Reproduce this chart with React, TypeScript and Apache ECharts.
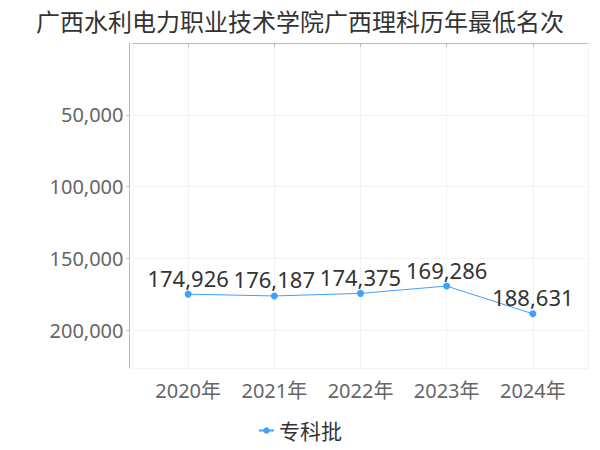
import React, {useRef, useEffect} from 'react';
import * as echarts from 'echarts';

const title = '广西水利电力职业技术学院广西理科历年最低名次';
const seriesName = '专科批';
const years = [2020, 2021, 2022, 2023, 2024];
const ranks = [174926, 176187, 174375, 169286, 188631];
const yTicks = [0, 50000, 100000, 150000, 200000];

const font = '"Noto Sans", "Noto Sans CJK SC", sans-serif';

const App = () => {
    const ref = useRef<HTMLDivElement | null>(null);

    useEffect(() => {
        const chart = echarts.init(ref.current as HTMLDivElement, null, {renderer: 'svg'});
        const yMax = Math.max(...ranks) * 1.2;
        chart.setOption({
            animation: false,
            textStyle: {fontFamily: font},
            title: {
                text: title,
                left: 'center',
                top: 4,
                textStyle: {fontSize: 24, fontWeight: 'normal', color: '#333', fontFamily: font}
            },
            legend: {
                bottom: 4,
                left: 'center',
                itemWidth: 15,
                itemHeight: 8,
                textStyle: {fontSize: 21, color: '#333', fontFamily: font},
                data: [seriesName]
            },
            grid: {left: 133, right: 12, top: 43, bottom: 82},
            xAxis: {
                type: 'value',
                min: years[0] - 0.64,
                max: years[years.length - 1] + 0.64,
                offset: 4,
                axisLine: {lineStyle: {color: '#bbb'}},
                axisTick: {show: true, length: 4, lineStyle: {color: '#bbb'}},
                splitLine: {show: true, lineStyle: {color: '#f3f3f3'}},
                axisLabel: {
                    showMinLabel: false,
                    showMaxLabel: false,
                    fontSize: 20,
                    color: '#666',
                    margin: 8,
                    formatter: (v: number) => (years.includes(v) ? `${v}年` : '')
                }
            },
            yAxis: {
                type: 'value',
                inverse: true,
                min: yTicks[0],
                max: yMax,
                interval: yTicks[1] - yTicks[0],
                offset: 3.5,
                axisLine: {show: true, lineStyle: {color: '#bbb'}},
                axisTick: {show: true, length: 3, lineStyle: {color: '#bbb'}},
                splitLine: {show: true, lineStyle: {color: '#f3f3f3'}},
                axisLabel: {
                    showMinLabel: false,
                    showMaxLabel: false,
                    fontSize: 20,
                    color: '#666',
                    margin: 6,
                    formatter: (v: number) => v.toLocaleString('en-US')
                }
            },
            series: [
                {
                    name: seriesName,
                    type: 'line',
                    data: years.map((y, i) => [y, ranks[i]]),
                    symbol: 'circle',
                    symbolSize: 7,
                    itemStyle: {color: '#3fa1ff'},
                    lineStyle: {width: 1, color: '#3fa1ff'},
                    label: {
                        show: true,
                        position: 'top',
                        distance: 2,
                        fontSize: 22,
                        color: '#333',
                        fontFamily: font,
                        formatter: (p: any) => p.value[1].toLocaleString('en-US')
                    }
                }
            ]
        });
        return () => chart.dispose();
    }, []);

    return <div ref={ref} style={{width: 600, height: 450, margin: -8}}></div>;
};

export default App;
